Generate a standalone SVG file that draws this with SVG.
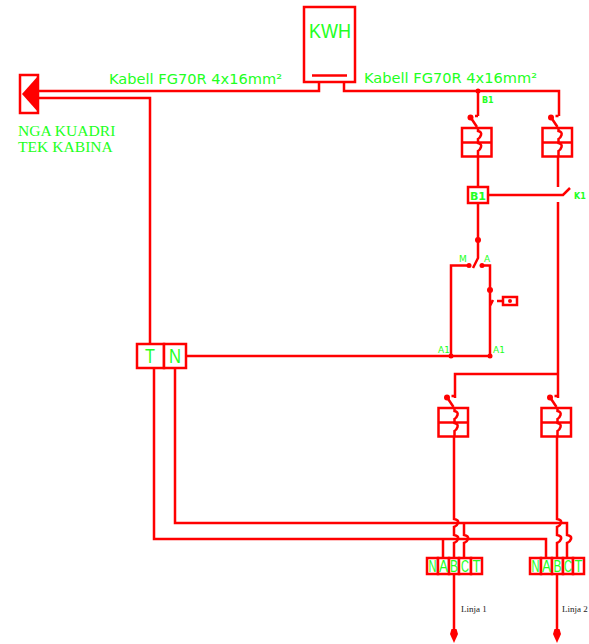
<svg xmlns="http://www.w3.org/2000/svg" width="589" height="644" viewBox="0 0 589 644">
<style>
.w{fill:none;stroke:#ff0000;stroke-width:2.500}
.b{fill:#fff;stroke:#ff0000;stroke-width:2.500}
.d{fill:#ff0000;stroke:none}
.t{fill:#22ff22;font-family:"DejaVu Sans",sans-serif}
.k{font-size:14.600px}
.s{font-family:"DejaVu Sans",sans-serif;font-size:8px;font-weight:bold;fill:#22ff22}
.m{font-family:"DejaVu Sans",sans-serif;font-size:9px;fill:#22ff22}
.h{font-family:"Liberation Sans",sans-serif;font-size:21px;fill:#22ff22}
.c{font-family:"Liberation Sans",sans-serif;font-size:16.500px;fill:#22ff22}
.r{font-family:"Liberation Serif",serif;font-size:15.600px;fill:#22ff22}
.l{font-family:"Liberation Serif",serif;font-size:9px;fill:#222}
</style>
<defs>
<g id="breaker">
<rect class="b" x="-16" y="0" width="29.500" height="28.500"/>
<path class="w" d="M-16 14.500H13.500"/>
<path class="w" d="M-1 -1L-7 -10M0 -12H-3M0 0V3q4 1 3 4q-1 3-3 4V15q4 1 3 4q-1 3-3 4V28.500"/>
<circle class="d" cx="-7.500" cy="-10.500" r="3"/>
</g>
<path id="arrow" class="d" d="M-2.500 -13H2.500L4 -8L0 1L-4 -8Z"/>
</defs>
<g id="connectors">
<path class="w" d="M319 82V91H38M344 82V91H559V116"/>
<path class="w" d="M38 98H150V344"/>
<path class="w" d="M478 91V116"/>
<path class="w" d="M478 157V187M488 195H563L570 188"/>
<path class="w" d="M558 157V187M558 202V398"/>
<path class="w" d="M478 203V258L473 268M469 265.500H451V356M482 265.500H490V300L490 306L493 300M490 306V356"/>
<path class="w" d="M186 356H490"/>
<path class="w" d="M497 301H503"/>
<path class="w" d="M558 374H455V398"/>
<path class="w" d="M154 368V539H546V558"/>
<path class="w" d="M175 368V523H567V535q5 1 4 4q-1 3-4 4V558"/>
<path class="w" d="M443 539V558"/>
<path class="w" d="M464 523V535q5 1 4 4q-1 3-4 4V558"/>
<path class="w" d="M454 436V519q5 1 4 4q-1 3-4 4V535q5 1 4 4q-1 3-4 4V558"/>
<path class="w" d="M557 436V519q5 1 4 4q-1 3-4 4V535q5 1 4 4q-1 3-4 4V558"/>
<path class="w" d="M454 574V632"/>
<path class="w" d="M557 574V632"/>
<use href="#arrow" x="454" y="642"/>
<use href="#arrow" x="557" y="642"/>
<g class="d">
<circle cx="478" cy="91" r="2.500"/><circle cx="478" cy="240" r="3"/>
<circle cx="469" cy="265.500" r="2.500"/><circle cx="482" cy="265.500" r="2.500"/>
<circle cx="490" cy="290" r="3"/><circle cx="451" cy="356" r="2.500"/><circle cx="490" cy="356" r="2.500"/>
</g>
</g>
<g id="kwh">
<rect class="b" x="304" y="7" width="51" height="75"/>
<path class="w" d="M312 75.500H347"/>
<text class="h" x="309" y="38" textLength="42" lengthAdjust="spacingAndGlyphs">KWH</text>
</g>
<g id="kuadri">
<rect class="b" x="20" y="75" width="18" height="38"/>
<path class="d" d="M22 94L38 76V112Z"/>
<text class="r" x="18" y="136">NGA KUADRI</text>
<text class="r" x="18" y="152">TEK KABINA</text>
</g>
<text class="t k" x="109" y="84">Kabell FG70R 4x16mm²</text>
<text class="t k" x="364" y="83">Kabell FG70R 4x16mm²</text>
<text class="s" x="482" y="103">B1</text>
<g id="breaker-b1"><use href="#breaker" x="478" y="128"/></g>
<g id="breaker-k1"><use href="#breaker" x="558.500" y="128"/></g>
<g id="relay-b1">
<rect class="b" x="468" y="187" width="20" height="16"/>
<text x="478" y="199.500" text-anchor="middle" style="font-family:'DejaVu Sans',sans-serif;font-size:11px;font-weight:bold;fill:#22ff22">B1</text>
</g>
<text class="s" x="574" y="199">K1</text>
<text class="m" x="459" y="262">M</text>
<text class="m" x="484" y="262">A</text>
<text class="m" x="438" y="353">A1</text>
<text class="m" x="493" y="353">A1</text>
<g id="button">
<rect class="b" x="503" y="297" width="14" height="8"/>
<circle class="d" cx="510" cy="301" r="2"/>
</g>
<g id="tn">
<rect class="b" x="137" y="344" width="27" height="24"/>
<rect class="b" x="164" y="344" width="22" height="24"/>
<text class="h" x="145" y="363" textLength="10" lengthAdjust="spacingAndGlyphs">T</text>
<text class="h" x="169" y="363" textLength="12" lengthAdjust="spacingAndGlyphs">N</text>
</g>
<g id="breaker-l1"><use href="#breaker" x="454.500" y="408"/></g>
<g id="breaker-l2"><use href="#breaker" x="557.500" y="408"/></g>
<g id="terminal-1">
<rect class="b" x="427" y="558" width="11" height="16"/><rect class="b" x="438" y="558" width="11" height="16"/><rect class="b" x="449" y="558" width="10" height="16"/><rect class="b" x="459" y="558" width="12" height="16"/><rect class="b" x="471" y="558" width="11" height="16"/>
<text class="c" x="428.500" y="572" textLength="8" lengthAdjust="spacingAndGlyphs">N</text><text class="c" x="439" y="572" textLength="9" lengthAdjust="spacingAndGlyphs">A</text><text class="c" x="450" y="572" textLength="8" lengthAdjust="spacingAndGlyphs">B</text><text class="c" x="461" y="572" textLength="8" lengthAdjust="spacingAndGlyphs">C</text><text class="c" x="472.500" y="572" textLength="8" lengthAdjust="spacingAndGlyphs">T</text>
</g>
<g id="terminal-2">
<rect class="b" x="530" y="558" width="11" height="16"/><rect class="b" x="541" y="558" width="11" height="16"/><rect class="b" x="552" y="558" width="11" height="16"/><rect class="b" x="563" y="558" width="10" height="16"/><rect class="b" x="573" y="558" width="11" height="16"/>
<text class="c" x="531.500" y="572" textLength="8" lengthAdjust="spacingAndGlyphs">N</text><text class="c" x="542" y="572" textLength="9" lengthAdjust="spacingAndGlyphs">A</text><text class="c" x="553.500" y="572" textLength="8" lengthAdjust="spacingAndGlyphs">B</text><text class="c" x="564" y="572" textLength="8" lengthAdjust="spacingAndGlyphs">C</text><text class="c" x="574.500" y="572" textLength="8" lengthAdjust="spacingAndGlyphs">T</text>
</g>
<text class="l" x="461" y="612">Linja 1</text>
<text class="l" x="562" y="612">Linja 2</text>
</svg>
